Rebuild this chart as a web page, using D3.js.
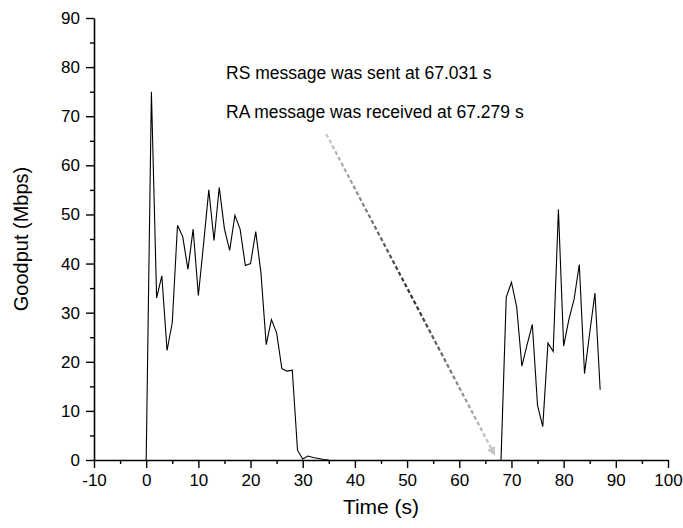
<!DOCTYPE html>
<html>
<head>
<meta charset="utf-8">
<script src="https://cdn.jsdelivr.net/npm/d3@7"></script>
<style>
  body { margin: 0; background: #fff; }
  text { font-family: Arial, "Liberation Sans", sans-serif; fill: #000; }
</style>
</head>
<body>
<svg id="chart" width="683" height="528"></svg>
<script>
// first burst (before the handover)
const burst1Time = [0, 1, 2, 3, 4, 5, 6, 7, 8, 9, 10, 11, 12, 13, 14, 15, 16, 17, 18, 19, 20,
                    21, 22, 23, 24, 25, 26, 27, 28, 29, 30, 31, 32, 33, 34, 35];
const burst1Goodput = [0, 75, 33, 37.5, 22.3, 28, 47.8, 45.5, 38.8, 47, 33.5, 44, 55, 44.7, 55.5, 47, 42.7, 49.8, 47, 39.6, 40,
                       46.5, 38, 23.5, 28.6, 25.9, 18.6, 18.1, 18.3, 2, 0.2, 0.8, 0.5, 0.3, 0.1, 0];

// second burst (after RA received)
const burst2Time = [68, 69, 70, 71, 72, 73, 74, 75, 76, 77, 78, 79, 80, 81, 82, 83, 84, 85, 86, 87];
const burst2Goodput = [0, 33.1, 36.2, 31.2, 19.1, 23.5, 27.6, 11.1, 6.8, 23.8, 22.1, 51, 23.2, 28.6, 32.7, 39.8, 17.6, 25.9, 34, 14.3];

const xTicks = [-10, 0, 10, 20, 30, 40, 50, 60, 70, 80, 90, 100];
const yTicks = [0, 10, 20, 30, 40, 50, 60, 70, 80, 90];

const notes = ["RS message was sent at 67.031 s", "RA message was received at 67.279 s"];
// arrow from the notes down to the moment of RA, in data units
const arrowFrom = [34.5, 66.4];
const arrowTo = [66.7, 1.2];

const margin = {left: 94, right: 15, top: 18, bottom: 68};
const width = 683, height = 528;

const svg = d3.select("#chart");

const x = d3.scaleLinear().domain([-10, 100]).range([margin.left, width - margin.right]);
const y = d3.scaleLinear().domain([0, 90]).range([height - margin.bottom, margin.top]);

const defs = svg.append("defs");

// data lines
const line = d3.line().x(d => x(d[0])).y(d => y(d[1]));
const bursts = [
  d3.zip(burst1Time, burst1Goodput),
  d3.zip(burst2Time, burst2Goodput)
];
svg.append("g")
  .selectAll("path")
  .data(bursts)
  .join("path")
    .attr("d", line)
    .attr("fill", "none")
    .attr("stroke", "#000")
    .attr("stroke-width", 1.1);

// axes (plain hyphen for negatives, like the original)
const fmt = d => String(d);

const xAxis = svg.append("g")
  .attr("transform", `translate(0,${y(0)})`)
  .call(d3.axisBottom(x).tickValues(xTicks).tickFormat(fmt).tickSize(8).tickPadding(6).tickSizeOuter(0));
xAxis.append("g")
  .call(d3.axisBottom(x).tickValues(d3.range(-5, 100, 10)).tickSize(4).tickFormat("").tickSizeOuter(0))
  .select(".domain").remove();

const yAxis = svg.append("g")
  .attr("transform", `translate(${x(-10)},0)`)
  .call(d3.axisLeft(y).tickValues(yTicks).tickFormat(fmt).tickSize(8).tickPadding(6).tickSizeOuter(0));
yAxis.append("g")
  .call(d3.axisLeft(y).tickValues(d3.range(5, 90, 10)).tickSize(4).tickFormat("").tickSizeOuter(0))
  .select(".domain").remove();

svg.selectAll(".domain").attr("stroke", "#000").attr("stroke-width", 1.6);
svg.selectAll(".tick line").attr("stroke", "#000").attr("stroke-width", 1.4);
svg.selectAll(".tick text").attr("font-size", 17).attr("font-family", "Arial, 'Liberation Sans', sans-serif").attr("fill", "#000");

// axis titles
svg.append("text")
  .attr("x", (x(-10) + x(100)) / 2)
  .attr("y", 514)
  .attr("text-anchor", "middle")
  .attr("font-size", 21)
  .text("Time (s)");

svg.append("text")
  .attr("transform", `translate(28,${(y(0) + y(90)) / 2}) rotate(-90)`)
  .attr("text-anchor", "middle")
  .attr("font-size", 20)
  .text("Goodput (Mbps)");

// annotation text
svg.append("g")
  .selectAll("text")
  .data(notes)
  .join("text")
    .attr("x", 226)
    .attr("y", (d, i) => 79 + i * 39)
    .attr("font-size", 17.5)
    .text(d => d);

// dashed arrow with a light-dark-light gradient
const x1 = x(arrowFrom[0]), y1 = y(arrowFrom[1]);
const x2 = x(arrowTo[0]), y2 = y(arrowTo[1]);
const grad = defs.append("linearGradient")
  .attr("id", "arrowGrad")
  .attr("gradientUnits", "userSpaceOnUse")
  .attr("x1", x1).attr("y1", y1).attr("x2", x2).attr("y2", y2);
grad.append("stop").attr("offset", "0%").attr("stop-color", "#c8c8c8");
grad.append("stop").attr("offset", "50%").attr("stop-color", "#2a2a2a");
grad.append("stop").attr("offset", "100%").attr("stop-color", "#cfcfcf");

defs.append("marker")
  .attr("id", "arrowHead")
  .attr("viewBox", "0 0 10 10")
  .attr("refX", 8).attr("refY", 5)
  .attr("markerWidth", 4).attr("markerHeight", 4)
  .attr("markerUnits", "strokeWidth")
  .attr("orient", "auto")
  .append("path")
    .attr("d", "M0,0 L10,5 L0,10 Z")
    .attr("fill", "#c4c4c4");

svg.append("line")
  .attr("x1", x1).attr("y1", y1)
  .attr("x2", x2).attr("y2", y2)
  .attr("stroke", "url(#arrowGrad)")
  .attr("stroke-width", 2.2)
  .attr("stroke-dasharray", "4,2.5")
  .attr("marker-end", "url(#arrowHead)");
</script>
</body>
</html>
